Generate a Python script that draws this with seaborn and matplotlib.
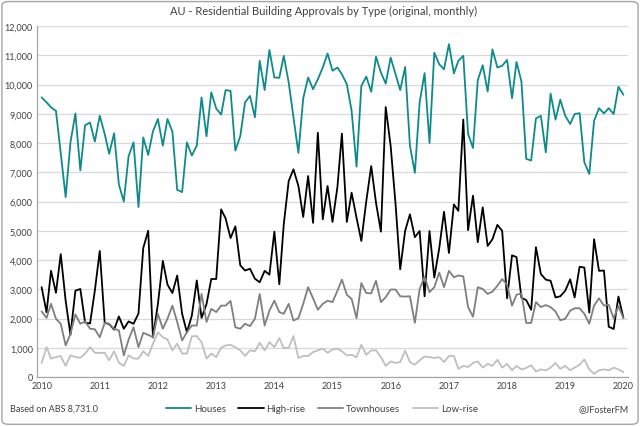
import numpy as np
import pandas as pd
import matplotlib
matplotlib.use("Agg")
import matplotlib.pyplot as plt
import matplotlib.dates as mdates
from matplotlib.patches import FancyBboxPatch
import seaborn as sns

months = pd.date_range("2010-01-01", periods=121, freq="MS")

houses = [
    9560, 9390, 9220, 9100, 7650, 6150, 8020, 9010, 7060, 8610, 8700, 8050,
    8930, 8310, 7630, 8330, 6580, 6000, 7550, 8020, 5810, 8190, 7590, 8400,
    8820, 7910, 8820, 8390, 6400, 6320, 8020, 7570, 7910, 9560, 8230, 9730,
    9180, 8970, 9810, 9780, 7740, 8230, 9390, 9610, 8880, 10810, 9810, 11180,
    10240, 10230, 10980, 10070, 8880, 7660, 9520, 10240, 9840, 10180, 10580, 11060,
    10470, 10580, 10350, 10010, 9100, 7190, 9950, 10270, 9750, 10950, 10410, 10030,
    10920, 10350, 9810, 10600, 7910, 6980, 9390, 10390, 8000, 11090, 10690, 10520,
    11380, 10380, 10810, 10980, 8310, 7830, 10150, 10660, 9760, 11200, 10580, 10640,
    10840, 9530, 10770, 10100, 7460, 7400, 8840, 8930, 7680, 9690, 8800, 9480,
    8930, 8650, 8990, 9020, 7340, 6940, 8760, 9190, 9010, 9190, 8990, 9920,
    9650]

high_rise = [
    3070, 2210, 3630, 2880, 4200, 2600, 1440, 2950, 3010, 1860, 1830, 2950,
    4310, 1850, 1810, 1620, 2070, 1650, 1900, 1820, 2170, 4410, 5000, 1350,
    2500, 3970, 3160, 2870, 3470, 2160, 1530, 2100, 3300, 2020, 2490, 3350,
    3350, 5730, 5420, 4750, 5150, 3820, 3640, 3700, 3360, 3240, 3630, 3500,
    4970, 3170, 5220, 6700, 7100, 6530, 5470, 6870, 5270, 8350, 5390, 6530,
    5300, 6500, 8320, 5300, 6300, 5440, 4650, 6010, 7210, 5960, 4970, 9230,
    7900, 5900, 3680, 5000, 5560, 4780, 4990, 2760, 4990, 3400, 4400, 5650,
    4240, 5900, 5680, 8800, 5020, 6200, 4610, 5800, 4480, 4710, 5200, 5000,
    2690, 4160, 4100, 2710, 2630, 2300, 4440, 3520, 3330, 3290, 2720, 2760,
    2950, 3340, 2720, 3770, 3740, 2200, 4710, 3630, 3640, 1720, 1640, 2750,
    2020]

townhouses = [
    2240, 2020, 2500, 1990, 1820, 1080, 1480, 2140, 1820, 1900, 1650, 1630,
    1360, 1850, 1820, 1650, 1590, 740, 1280, 1700, 1020, 1510, 1440, 1360,
    2160, 1650, 1990, 2440, 1880, 1250, 1530, 1760, 1760, 2840, 1880, 2330,
    2220, 2440, 2440, 2600, 1700, 1650, 1820, 1740, 1990, 2840, 1760, 2270,
    2610, 2220, 2160, 2500, 1930, 2010, 2500, 3070, 2690, 2300, 2500, 2610,
    2560, 2950, 3330, 2810, 2670, 2010, 3210, 2870, 2860, 3290, 2560, 2730,
    2990, 2990, 2760, 2750, 2760, 1850, 3010, 3430, 2900, 3070, 3570, 3070,
    3630, 3410, 3470, 3440, 2390, 2060, 3070, 3010, 2840, 2920, 3120, 3350,
    3150, 2440, 2810, 2860, 1850, 1850, 2560, 2390, 2460, 2390, 2240, 1940,
    1990, 2270, 2350, 2350, 2160, 1820, 2440, 2690, 2440, 2470, 2010, 2420,
    2010]

low_rise = [
    480, 1020, 630, 680, 720, 380, 740, 680, 660, 800, 1020, 830,
    820, 830, 570, 880, 490, 380, 740, 630, 630, 880, 720, 1140,
    1530, 1360, 1280, 910, 1140, 800, 800, 1390, 1400, 1190, 630, 800,
    680, 1000, 1080, 1100, 1020, 910, 720, 910, 880, 1170, 910, 1190,
    1020, 1330, 990, 1000, 1400, 650, 720, 720, 850, 910, 970, 830,
    940, 970, 880, 740, 760, 680, 1100, 760, 910, 910, 680, 380,
    530, 480, 510, 900, 510, 420, 570, 700, 680, 650, 680, 510,
    720, 720, 280, 380, 340, 480, 530, 320, 450, 380, 590, 320,
    450, 230, 380, 260, 310, 400, 190, 260, 230, 320, 480, 280,
    380, 230, 320, 420, 600, 260, 110, 230, 260, 230, 320, 260,
    170]

series_names = ["Houses", "High-rise", "Townhouses", "Low-rise"]
colors = {"Houses": "#0f8a8a", "High-rise": "#000000",
          "Townhouses": "#7f7f7f", "Low-rise": "#bfbfbf"}
year_ticks = [str(y) for y in range(2010, 2021)]

df = pd.concat([
    pd.DataFrame({"month": months, "value": vals, "series": name})
    for name, vals in zip(series_names, [houses, high_rise, townhouses, low_rise])
])

sns.set_theme(style="white")
plt.rcParams["font.family"] = ["Lato", "DejaVu Sans"]

fig = plt.figure(figsize=(6.4, 4.27), dpi=100)
ax = fig.add_axes([37/640, 1 - 378/427, (628-37)/640, (378-27)/427])

sns.lineplot(data=df, x="month", y="value", hue="series", hue_order=series_names,
             palette=colors, linewidth=1.3, ax=ax, legend=True)
# draw order: keep houses on top like reference? reference draws houses first
ax.set_xlim(pd.Timestamp("2009-12-03"), pd.Timestamp("2020-01-30"))
ax.set_ylim(0, 12000)
ax.set_yticks(range(0, 12001, 1000))
ax.yaxis.set_major_formatter(matplotlib.ticker.FuncFormatter(lambda v, p: f"{int(v):,}"))
ax.set_xticks([pd.Timestamp(f"{y}-01-01") for y in year_ticks])
ax.set_xticklabels(year_ticks)
ax.grid(axis="y", color="#d9d9d9", linewidth=0.9)
ax.set_axisbelow(True)
for s in ["top", "right"]:
    ax.spines[s].set_visible(False)
for s in ["left", "bottom"]:
    ax.spines[s].set_color("#a6a6a6")
    ax.spines[s].set_linewidth(0.9)
ax.tick_params(axis="both", length=0, labelsize=6.5, colors="#404040", pad=3)
ax.set_xlabel("")
ax.set_ylabel("")

handles, labels = ax.get_legend_handles_labels()
ax.legend_.remove()
fig.legend(handles, labels, loc="center", bbox_to_anchor=(0.503, 0.041), ncol=4,
           frameon=False, fontsize=7, handlelength=2.6, columnspacing=1.3,
           handletextpad=0.3, labelcolor="#404040")

fig.text(0.505, 0.972, "AU - Residential Building Approvals by Type (original, monthly)",
         ha="center", va="center", fontsize=8, color="#404040")
fig.text(0.016, 0.041, "Based on ABS 8,731.0", ha="left", va="center",
         fontsize=6.5, color="#404040")
fig.text(0.982, 0.041, "@JFosterFM", ha="right", va="center",
         fontsize=6.5, color="#404040")

border = FancyBboxPatch((0.003, 0.004), 0.994, 0.99, boxstyle="round,pad=0,rounding_size=0.01",
                        transform=fig.transFigure, fill=False, edgecolor="#a6a6a6",
                        linewidth=1.0)
fig.patches.append(border)

fig.savefig("out.png", dpi=100)
